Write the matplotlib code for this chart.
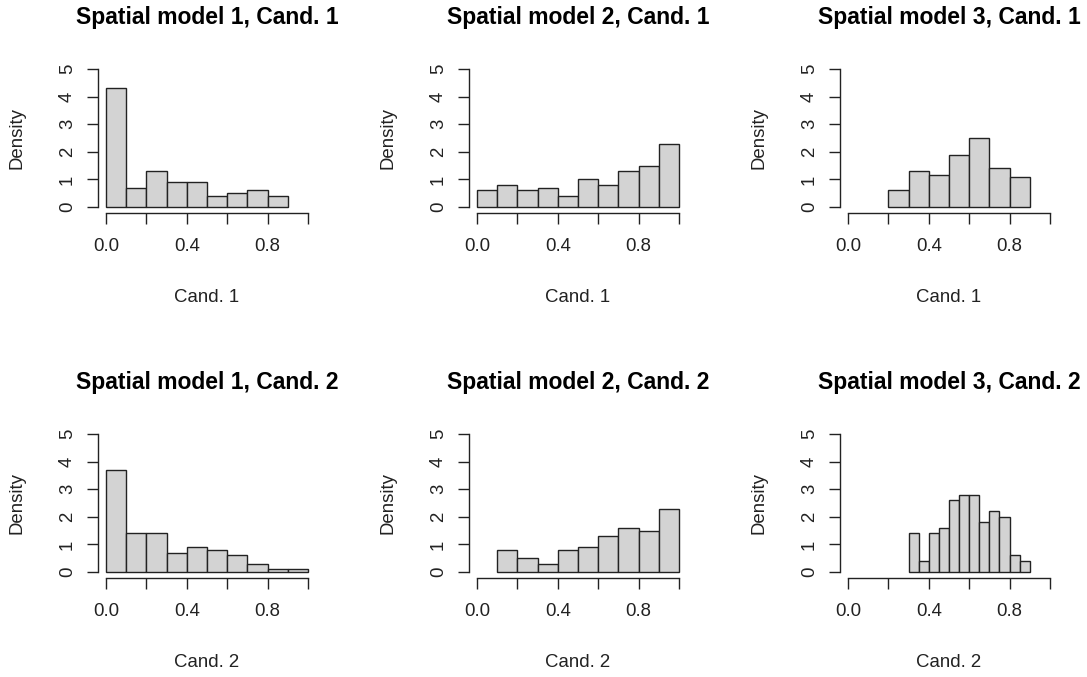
import numpy as np
import matplotlib
matplotlib.use('Agg')
import matplotlib.pyplot as plt

plt.rcParams['font.family'] = ['Liberation Sans', 'DejaVu Sans']

#%% Histogram data (density heights)
titles = ['Spatial model 1, Cand. 1', 'Spatial model 2, Cand. 1', 'Spatial model 3, Cand. 1',
          'Spatial model 1, Cand. 2', 'Spatial model 2, Cand. 2', 'Spatial model 3, Cand. 2']
xlabels = ['Cand. 1', 'Cand. 1', 'Cand. 1', 'Cand. 2', 'Cand. 2', 'Cand. 2']

# first bin edge and bin width for each panel
bin_start = [0.0, 0.0, 0.2, 0.0, 0.1, 0.3]
bin_width = [0.1, 0.1, 0.1, 0.1, 0.1, 0.05]

dens_m1_c1 = [4.3, 0.7, 1.3, 0.9, 0.9, 0.4, 0.5, 0.6, 0.4]
dens_m2_c1 = [0.6, 0.8, 0.6, 0.7, 0.4, 1.0, 0.8, 1.3, 1.5, 2.3]
dens_m3_c1 = [0.6, 1.3, 1.15, 1.9, 2.5, 1.4, 1.1]
dens_m1_c2 = [3.7, 1.4, 1.4, 0.7, 0.9, 0.8, 0.6, 0.3, 0.1, 0.1]
dens_m2_c2 = [0.8, 0.5, 0.3, 0.8, 0.9, 1.3, 1.6, 1.5, 2.3]
dens_m3_c2 = [1.4, 0.4, 1.4, 1.6, 2.6, 2.8, 2.8, 1.8, 2.2, 2.0, 0.6, 0.4]
densities = [dens_m1_c1, dens_m2_c1, dens_m3_c1, dens_m1_c2, dens_m2_c2, dens_m3_c2]

xticks = [0.0, 0.2, 0.4, 0.6, 0.8, 1.0]
xticklabels = ['0.0', '', '0.4', '', '0.8', '']
yticks = [0, 1, 2, 3, 4, 5]

#%% Layout (R-like plot regions, in pixels)
W, H = 1087, 677
fig = plt.figure(figsize=(W / 100, H / 100), dpi=100)
lefts = [98, 469, 840]
tops = [63.5, 428.5]
pw, ph = 218, 149
axcol = '#222222'
fs = 13.4

for i in range(6):
    r, c = divmod(i, 3)
    left, top = lefts[c], tops[r]
    ax = fig.add_axes([left / W, 1 - (top + ph) / H, pw / W, ph / H])
    h = densities[i]
    edges = bin_start[i] + bin_width[i] * np.arange(len(h))
    ax.bar(edges, h, width=bin_width[i], align='edge', color='#d3d3d3',
           edgecolor=axcol, linewidth=1.0)
    ax.set_xlim(-0.04, 1.04)
    ax.set_ylim(-0.2, 5.2)
    for s in ['top', 'right']:
        ax.spines[s].set_visible(False)
    ax.spines['left'].set_bounds(0, 5)
    ax.spines['bottom'].set_bounds(0, 1)
    for s in ['left', 'bottom']:
        ax.spines[s].set_color(axcol)
        ax.spines[s].set_linewidth(1.0)
    ax.set_xticks(xticks)
    ax.set_xticklabels(xticklabels)
    ax.set_yticks(yticks)
    ax.set_yticklabels([str(v) for v in yticks], rotation=90, va='center')
    ax.tick_params(direction='out', length=8, width=1.0, color=axcol,
                   labelsize=fs, labelcolor='#222222')
    ax.tick_params(axis='x', pad=10.5)
    ax.tick_params(axis='y', pad=8)

    # titles and axis labels placed like R does
    cx = (left + pw / 2) / W
    fig.text(cx, 1 - (top - 39.5) / H, titles[i], fontsize=16.5, fontweight='bold',
             ha='center', va='baseline')
    fig.text(cx, 1 - (top + 238.5) / H, xlabels[i], fontsize=fs,
             ha='center', va='baseline', color='#222222')
    fig.text((left - 81) / W, 1 - (top + ph / 2) / H, 'Density', fontsize=fs,
             rotation=90, ha='center', va='center', color='#222222')

plt.savefig('out.png', dpi=100)
